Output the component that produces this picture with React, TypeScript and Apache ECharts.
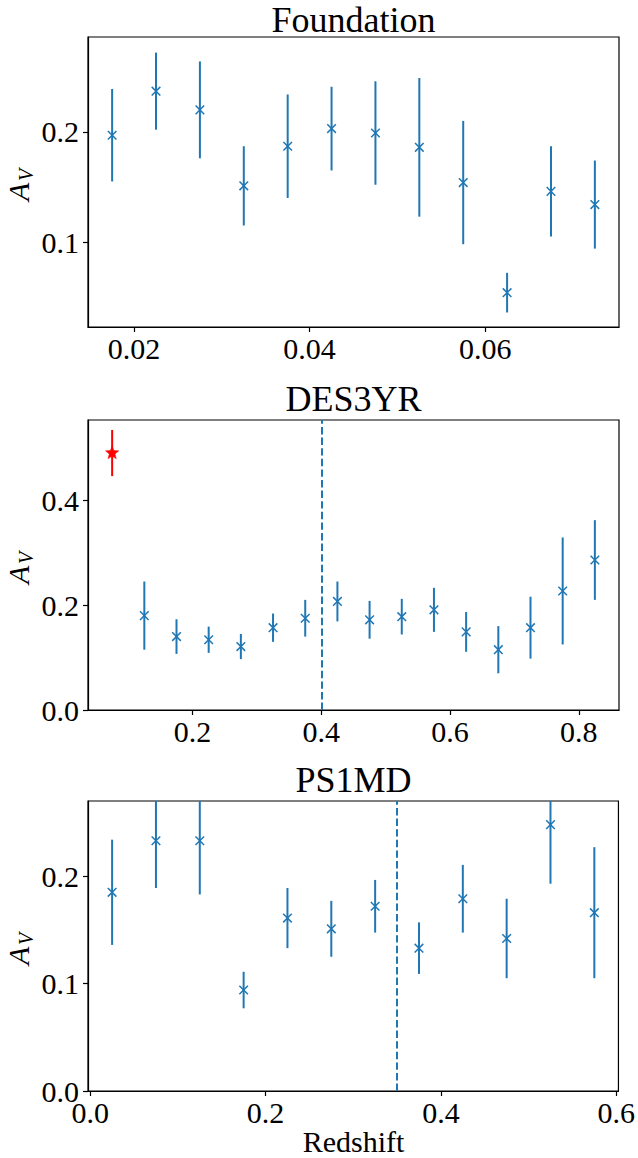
import React, { useEffect, useRef } from "react";
import * as echarts from "echarts";

// ---------- data ----------
const foundationZ = [0.0175, 0.0225, 0.0275, 0.0325, 0.0375, 0.0425, 0.0475, 0.0525, 0.0575, 0.0625, 0.0675, 0.0725];
const foundationAv = [0.197, 0.237, 0.220, 0.151, 0.187, 0.203, 0.199, 0.186, 0.154, 0.054, 0.146, 0.134];
const foundationErr = [0.042, 0.035, 0.044, 0.036, 0.047, 0.038, 0.047, 0.063, 0.056, 0.018, 0.041, 0.040];

const desZ = [0.125, 0.175, 0.225, 0.275, 0.325, 0.375, 0.425, 0.475, 0.525, 0.575, 0.625, 0.675, 0.725, 0.775, 0.825];
const desAv = [0.180, 0.140, 0.134, 0.121, 0.157, 0.175, 0.207, 0.172, 0.178, 0.191, 0.149, 0.115, 0.157, 0.227, 0.286];
const desErr = [0.065, 0.033, 0.025, 0.024, 0.027, 0.035, 0.038, 0.036, 0.034, 0.042, 0.038, 0.045, 0.059, 0.102, 0.076];
const desLowZ = [0.075];
const desLowAv = [0.490];
const desLowErr = [0.044];
const desSplit = [0.4];

const psZ = [0.025, 0.075, 0.125, 0.175, 0.225, 0.275, 0.325, 0.375, 0.425, 0.475, 0.525, 0.575];
const psAv = [0.185, 0.233, 0.233, 0.094, 0.161, 0.151, 0.172, 0.133, 0.179, 0.142, 0.248, 0.166];
const psErr = [0.049, 0.044, 0.050, 0.017, 0.028, 0.026, 0.0245, 0.024, 0.0315, 0.037, 0.055, 0.061];
const psSplit = [0.35];

const titles = ["Foundation", "DES3YR", "PS1MD"];
const xRanges = [[0.01475, 0.07525], [0.0375, 0.8625], [-0.0025, 0.6025]];
const yRanges = [[0.0228, 0.2862], [0, 0.553], [0, 0.27]];
const xTicks = [[0.02, 0.04, 0.06], [0.2, 0.4, 0.6, 0.8], [0.0, 0.2, 0.4, 0.6]];
const yTicks = [[0.1, 0.2], [0.0, 0.2, 0.4], [0.0, 0.1, 0.2]];
const xDigits = [2, 1, 1];
const xLabel = "Redshift";

// ---------- style ----------
const C0 = "#1f77b4";
const RED = "#ff0000";
const FONT = "Liberation Serif";
const GRID_LEFT = 88;
const GRID_RIGHT = 19;
const GRID_TOPS = [37, 420, 801];
const GRID_H = 290;
const TITLE_Y = [20, 399, 780];

function zip(z: number[], v: number[], e: number[]) {
  return z.map((x, i) => [x, v[i], e[i]]);
}

function errRender(yr: number[], color: string, marker: "x" | "star") {
  return (params: any, api: any) => {
    const x = api.value(0);
    const v = api.value(1);
    const e = api.value(2);
    const lo = Math.max(v - e, yr[0]);
    const hi = Math.min(v + e, yr[1]);
    const p0 = api.coord([x, lo]);
    const p1 = api.coord([x, hi]);
    const c = api.coord([x, v]);
    const children: any[] = [
      {
        type: "line",
        shape: { x1: p0[0], y1: p0[1], x2: p1[0], y2: p1[1] },
        style: { stroke: color, lineWidth: 2 },
      },
    ];
    if (marker === "x") {
      const s = 4.3;
      children.push(
        { type: "line", shape: { x1: c[0] - s, y1: c[1] - s, x2: c[0] + s, y2: c[1] + s }, style: { stroke: color, lineWidth: 1.5 } },
        { type: "line", shape: { x1: c[0] - s, y1: c[1] + s, x2: c[0] + s, y2: c[1] - s }, style: { stroke: color, lineWidth: 1.5 } }
      );
    } else {
      const R = 7, r = 3;
      const pts: number[][] = [];
      for (let k = 0; k < 10; k++) {
        const ang = -Math.PI / 2 + (k * Math.PI) / 5;
        const rad = k % 2 === 0 ? R : r;
        pts.push([c[0] + rad * Math.cos(ang), c[1] + rad * Math.sin(ang)]);
      }
      children.push({ type: "polygon", shape: { points: pts }, style: { fill: color, stroke: color, lineWidth: 0.5 } });
    }
    return { type: "group", children };
  };
}

function buildOption() {
  const grid = GRID_TOPS.map((t) => ({
    left: GRID_LEFT,
    right: GRID_RIGHT,
    top: t,
    height: GRID_H,
    show: true,
    borderColor: "#000",
    borderWidth: 1.2,
    backgroundColor: "transparent",
  }));

  const xAxis = [0, 1, 2].map((i) => ({
    type: "value",
    gridIndex: i,
    min: xRanges[i][0],
    max: xRanges[i][1],
    splitLine: { show: false },
    axisLine: { show: true, onZero: false, lineStyle: { color: "#000", width: 1.2 } },
    axisTick: { show: true, length: 5, customValues: xTicks[i], lineStyle: { color: "#000", width: 1.2 } },
    axisLabel: {
      customValues: xTicks[i],
      margin: 6,
      fontFamily: FONT,
      fontSize: 30,
      color: "#000",
      formatter: (v: number) => v.toFixed(xDigits[i]),
    },
  }));

  const yAxis = [0, 1, 2].map((i) => ({
    type: "value",
    gridIndex: i,
    min: yRanges[i][0],
    max: yRanges[i][1],
    splitLine: { show: false },
    axisLine: { show: true, onZero: false, lineStyle: { color: "#000", width: 1.2 } },
    axisTick: { show: true, length: 5, customValues: yTicks[i], lineStyle: { color: "#000", width: 1.2 } },
    axisLabel: {
      customValues: yTicks[i],
      margin: 9,
      fontFamily: FONT,
      fontSize: 30,
      color: "#000",
      formatter: (v: number) => v.toFixed(1),
    },
  }));

  const mkErr = (i: number, data: number[][], color: string, marker: "x" | "star") => ({
    type: "custom",
    xAxisIndex: i,
    yAxisIndex: i,
    data,
    encode: { x: 0, y: 1 },
    renderItem: errRender(yRanges[i], color, marker),
    silent: true,
  });

  const mkVline = (i: number, xs: number[]) => ({
    type: "line",
    xAxisIndex: i,
    yAxisIndex: i,
    data: [],
    silent: true,
    markLine: {
      silent: true,
      symbol: "none",
      label: { show: false },
      lineStyle: { color: C0, width: 2, type: [7.4, 3.2] },
      data: xs.map((x) => ({ xAxis: x })),
    },
  });

  const series: any[] = [
    mkErr(0, zip(foundationZ, foundationAv, foundationErr), C0, "x"),
    mkVline(1, desSplit),
    mkErr(1, zip(desZ, desAv, desErr), C0, "x"),
    mkErr(1, zip(desLowZ, desLowAv, desLowErr), RED, "star"),
    mkVline(2, psSplit),
    mkErr(2, zip(psZ, psAv, psErr), C0, "x"),
  ];

  const cx = GRID_LEFT + (638 - GRID_LEFT - GRID_RIGHT) / 2;
  const graphic: any[] = [];
  titles.forEach((t, i) => {
    graphic.push({
      type: "text",
      x: cx,
      y: TITLE_Y[i],
      style: {
        text: t,
        fontFamily: FONT,
        fontSize: 36,
        fill: "#000",
        align: "center",
        verticalAlign: "middle",
      },
    });
    graphic.push({
      type: "group",
      x: 18,
      y: GRID_TOPS[i] + GRID_H / 2,
      rotation: Math.PI / 2,
      children: [
        {
          type: "text",
          x: -19,
          y: 0,
          style: { text: "A", fontFamily: FONT, fontStyle: "italic", fontSize: 30, fill: "#000", align: "left", verticalAlign: "middle" },
        },
        {
          type: "text",
          x: 1,
          y: 8,
          style: { text: "V", fontFamily: FONT, fontStyle: "italic", fontSize: 20, fill: "#000", align: "left", verticalAlign: "middle" },
        },
      ],
    });
  });
  graphic.push({
    type: "text",
    x: cx,
    y: 1141,
    style: {
      text: xLabel,
      fontFamily: FONT,
      fontSize: 30,
      fill: "#000",
      align: "center",
      verticalAlign: "middle",
    },
  });

  return {
    animation: false,
    backgroundColor: "#fff",
    grid,
    xAxis,
    yAxis,
    series,
    graphic,
  };
}

export default function App() {
  const ref = useRef<HTMLDivElement>(null);
  useEffect(() => {
    if (!ref.current) return;
    const chart = echarts.init(ref.current, null, { renderer: "svg" });
    chart.setOption(buildOption() as any);
    return () => chart.dispose();
  }, []);
  return (
    <div
      ref={ref}
      style={{ position: "absolute", left: 0, top: 0, width: 638, height: 1158, background: "#fff" }}
    />
  );
}
